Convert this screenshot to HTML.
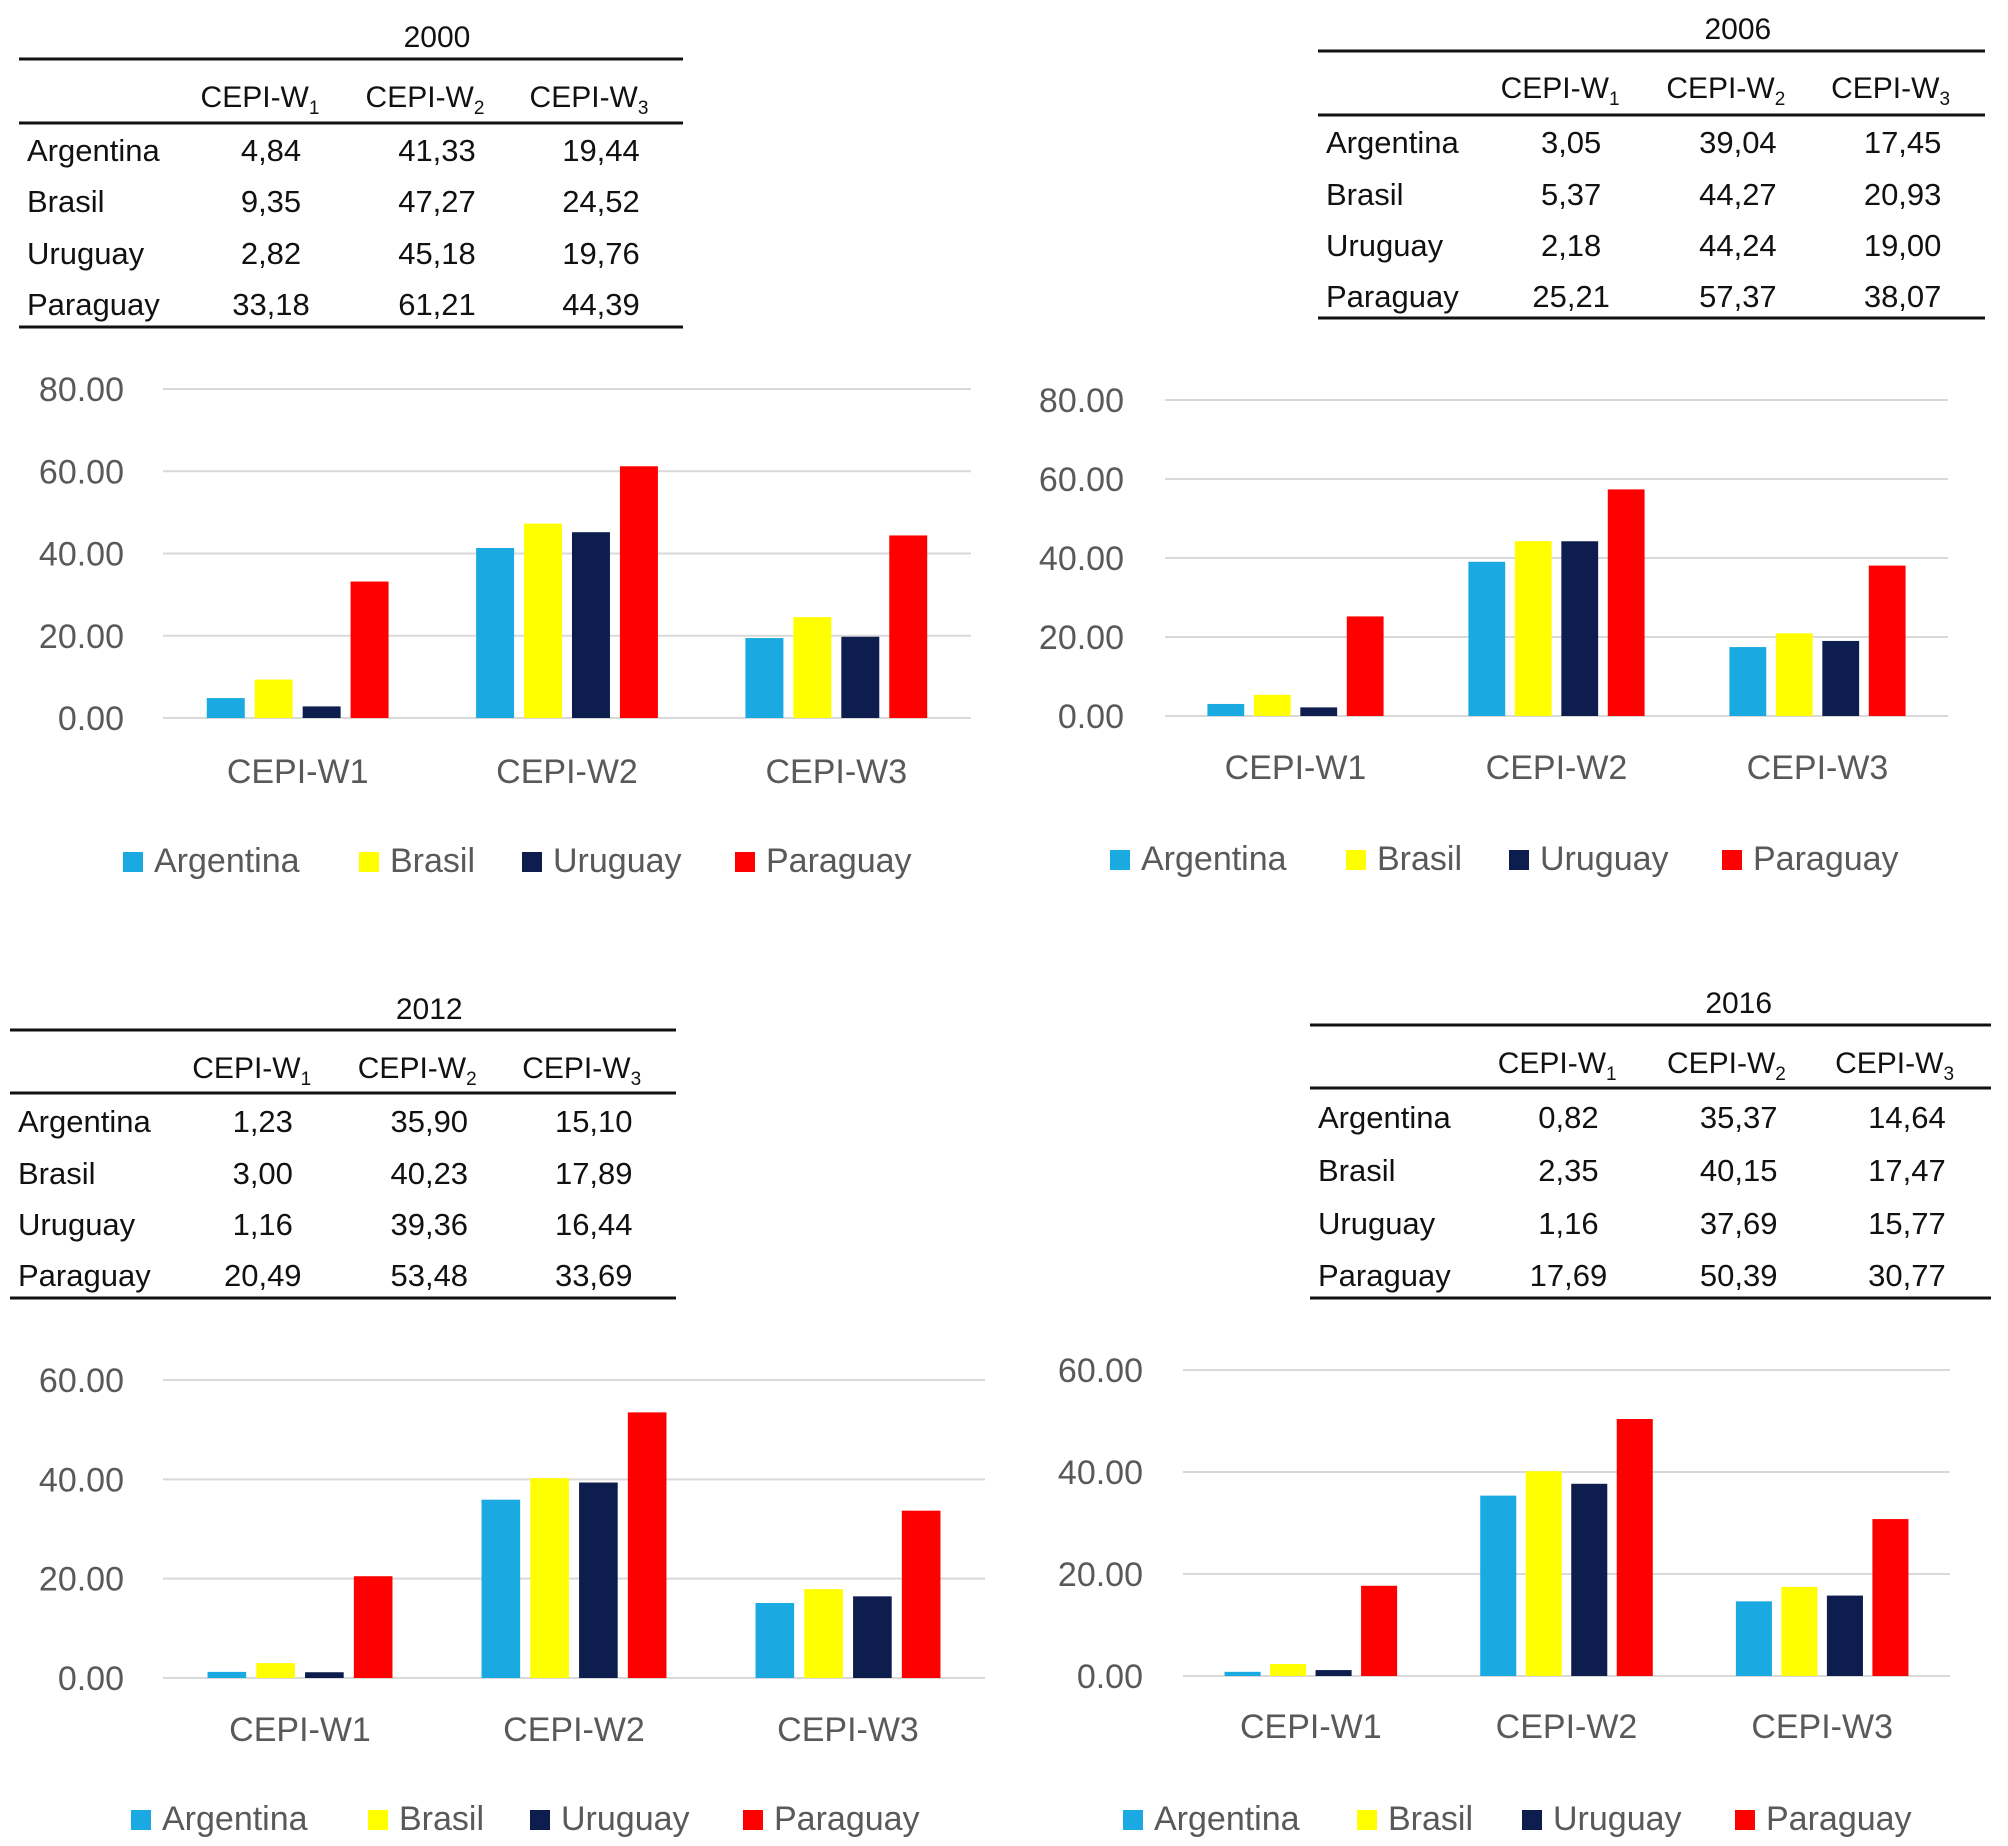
<!DOCTYPE html>
<html><head><meta charset="utf-8">
<style>
html,body{margin:0;padding:0;background:#fff;}
svg{display:block;font-family:"Liberation Sans",sans-serif;}
</style></head>
<body>
<svg id="root" width="2008" height="1846" viewBox="0 0 2008 1846" xmlns="http://www.w3.org/2000/svg"></svg>
<script>
const categories = ["CEPI-W1", "CEPI-W2", "CEPI-W3"];
const countries = ["Argentina", "Brasil", "Uruguay", "Paraguay"];
const colors = ["#1BA9E1", "#FFFF00", "#0D1E4E", "#FF0000"];
const years = ["2000", "2006", "2012", "2016"];
const values2000 = [[4.84, 41.33, 19.44], [9.35, 47.27, 24.52], [2.82, 45.18, 19.76], [33.18, 61.21, 44.39]];
const values2006 = [[3.05, 39.04, 17.45], [5.37, 44.27, 20.93], [2.18, 44.24, 19.00], [25.21, 57.37, 38.07]];
const values2012 = [[1.23, 35.90, 15.10], [3.00, 40.23, 17.89], [1.16, 39.36, 16.44], [20.49, 53.48, 33.69]];
const values2016 = [[0.82, 35.37, 14.64], [2.35, 40.15, 17.47], [1.16, 37.69, 15.77], [17.69, 50.39, 30.77]];
const ticks80 = [0, 20, 40, 60, 80];
const ticks60 = [0, 20, 40, 60];

const NS = "http://www.w3.org/2000/svg";
const root = document.getElementById('root');
function mk(tag, attrs, parent, text) {
  const e = document.createElementNS(NS, tag);
  for (const k in attrs) e.setAttribute(k, attrs[k]);
  if (text !== undefined) e.textContent = text;
  (parent || root).appendChild(e);
  return e;
}

const layouts = [
  {vals: values2000, ticks: ticks80, tab: {L:19, R:683, title:36, top:59, head:96, line2:123, rows:[150,201,253,304], bot:327},
   plot: {x0:163, x1:971, y0:718, yTop:389, labR:124, cat:771, leg:860}, legX:[123,359,522,735]},
  {vals: values2006, ticks: ticks80, tab: {L:1318, R:1985, title:28, top:51, head:87, line2:115, rows:[142,194,245,296], bot:318},
   plot: {x0:1165, x1:1948, y0:716, yTop:400, labR:1124, cat:767, leg:858}, legX:[1110,1346,1509,1722]},
  {vals: values2012, ticks: ticks60, tab: {L:10, R:676, title:1008, top:1030, head:1067, line2:1093, rows:[1121,1173,1224,1275], bot:1298},
   plot: {x0:163, x1:985, y0:1678, yTop:1380, labR:124, cat:1729, leg:1818}, legX:[131,368,530,743]},
  {vals: values2016, ticks: ticks60, tab: {L:1310, R:1991, title:1002, top:1025, head:1062, line2:1088, rows:[1117,1170,1223,1275], bot:1298},
   plot: {x0:1183, x1:1950, y0:1676, yTop:1370, labR:1143, cat:1726, leg:1818}, legX:[1123,1357,1522,1735]}
];

function fmt(v){ return v.toFixed(2).replace('.', ','); }

layouts.forEach((ly, i) => {
  const year = years[i];
  const g = mk('g', {}, root);
  
  
  const t = ly.tab;
  const tg = mk('g', {}, g);
  
  
  const s = (t.R - t.L) / 664;
  const headX = [t.L + 241*s, t.L + 406*s, t.L + 570*s];
  const numX = [t.L + 252*s, t.L + 418*s, t.L + 582*s];
  const tt = mk('text', {x: numX[1], y: t.title + 11, 'text-anchor': 'middle', 'font-size': 30, fill: '#111'}, tg, year);
  
  
  [t.top, t.line2, t.bot].forEach(yy => {
    const ln = mk('line', {x1: t.L, x2: t.R, y1: yy, y2: yy, stroke: '#111', 'stroke-width': 3}, tg);
    
    
  });
  for (let c = 0; c < 3; c++) {
    const h = mk('text', {x: headX[c], y: t.head + 11, 'text-anchor': 'middle', 'font-size': 30, fill: '#111'}, tg);
    
    
    mk('tspan', {}, h, 'CEPI-W');
    mk('tspan', {'font-size': 19, dy: 7}, h, String(c + 1));
  }
  countries.forEach((cn, r) => {
    const lt = mk('text', {x: t.L + 8, y: t.rows[r] + 11, 'font-size': 31, fill: '#111'}, tg, cn);
    
    
    for (let c = 0; c < 3; c++) {
      const nt = mk('text', {x: numX[c], y: t.rows[r] + 11, 'text-anchor': 'middle', 'font-size': 31, fill: '#111'}, tg, fmt(ly.vals[r][c]));
      
      
    }
  });
  const p = ly.plot;
  const maxT = ly.ticks[ly.ticks.length - 1];
  const yScale = v => p.y0 - (v / maxT) * (p.y0 - p.yTop);
  const gw = (p.x1 - p.x0) / categories.length;
  const step = gw * 0.178, bw = gw * 0.141;
  const start = (gw - (3 * step + bw)) / 2;
  const xBar = (c, k) => p.x0 + c * gw + start + k * step;
  const cg = mk('g', {}, g);
  
  
  ly.ticks.forEach(tv => {
    const yy = yScale(tv);
    const gl = mk('line', {x1: p.x0, x2: p.x1, y1: yy, y2: yy, stroke: '#d9d9d9', 'stroke-width': 2}, cg);
    
    
    const tl = mk('text', {x: p.labR, y: yy + 12, 'text-anchor': 'end', 'font-size': 34, fill: '#595959'}, cg, tv.toFixed(2));
    
    
  });
  for (let k = 0; k < countries.length; k++) {
    for (let c = 0; c < categories.length; c++) {
      const v = ly.vals[k][c];
      const yv = yScale(v);
      const b = mk('rect', {x: xBar(c, k), y: yv, width: bw, height: p.y0 - yv, fill: colors[k]}, cg);
      
      
    }
  }
  categories.forEach((cat, c) => {
    const ct = mk('text', {x: p.x0 + (c + 0.5) * gw, y: p.cat + 12, 'text-anchor': 'middle', 'font-size': 34, fill: '#595959'}, cg, cat);
    
    
  });
  countries.forEach((cn, k) => {
    const lg = mk('g', {}, cg);
    
    
    mk('rect', {x: ly.legX[k], y: p.leg - 8, width: 20, height: 20, fill: colors[k]}, lg);
    mk('text', {x: ly.legX[k] + 31, y: p.leg + 12, 'font-size': 34, fill: '#595959'}, lg, cn);
  });
});
</script>
</body></html>
